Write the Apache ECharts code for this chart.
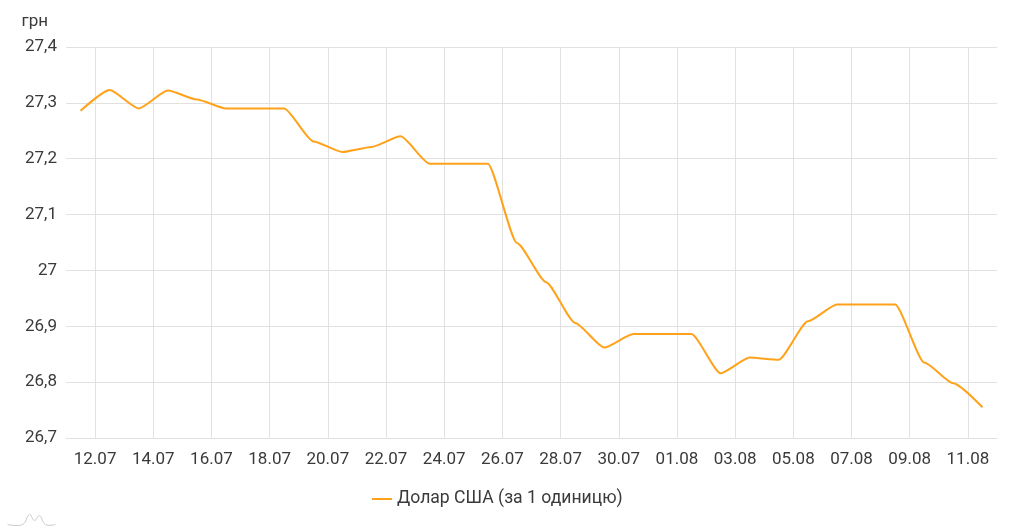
<!DOCTYPE html>
<html>
<head>
<meta charset="utf-8">
<style>
html,body{margin:0;padding:0;background:#fff;}
#chart{width:1024px;height:530px;}
</style>
<script src="https://cdn.jsdelivr.net/npm/echarts@6/dist/echarts.min.js"></script>
</head>
<body>
<div id="chart"></div>
<script>
// Daily observation dates (points sit in the middle of each day)
var days = ['11.07','12.07','13.07','14.07','15.07','16.07','17.07','18.07','19.07','20.07',
  '21.07','22.07','23.07','24.07','25.07','26.07','27.07','28.07','29.07','30.07','31.07',
  '01.08','02.08','03.08','04.08','05.08','06.08','07.08','08.08','09.08','10.08','11.08'];
// Day boundaries (midnights) used for tick labels and grid lines
var tickLabels = ['11.07','12.07','13.07','14.07','15.07','16.07','17.07','18.07','19.07','20.07',
  '21.07','22.07','23.07','24.07','25.07','26.07','27.07','28.07','29.07','30.07','31.07',
  '01.08','02.08','03.08','04.08','05.08','06.08','07.08','08.08','09.08','10.08','11.08','12.08'];
// USD rate, UAH
var usdRate = [27.286,27.323,27.290,27.322,27.306,27.290,27.290,27.290,27.231,27.212,
  27.221,27.240,27.191,27.191,27.191,27.049,26.979,26.906,26.862,26.886,26.886,
  26.886,26.816,26.844,26.840,26.909,26.939,26.939,26.939,26.835,26.798,26.755];
var seriesName = 'Долар США (за 1 одиницю)';
var yName = 'грн';

var textColor = '#3a3a3a';
var gridColor = '#e1e1e1';
var fontFamily = 'Roboto, sans-serif';

var chart = echarts.init(document.getElementById('chart'));
var oddOnly = function (i) { return i % 2 === 1; };
chart.setOption({
  animation: false,
  textStyle: { fontFamily: fontFamily },
  grid: { left: 66, right: 27, top: 47, bottom: 92 },
  legend: {
    data: [seriesName],
    left: 367, top: 485,
    icon: 'rect', itemWidth: 20, itemHeight: 2, itemGap: 6,
    textStyle: { fontSize: 17.6, color: textColor, fontFamily: fontFamily }
  },
  xAxis: [{
    type: 'category',
    data: tickLabels,
    boundaryGap: false,
    position: 'bottom',
    axisLine: { lineStyle: { color: gridColor, width: 1 } },
    axisTick: { show: false },
    axisLabel: { interval: oddOnly, color: textColor, fontSize: 17, margin: 13, fontFamily: fontFamily },
    splitLine: { show: true, interval: oddOnly, lineStyle: { color: gridColor, width: 1 } }
  }, {
    type: 'category',
    data: days,
    boundaryGap: true,
    position: 'bottom',
    show: false
  }],
  yAxis: {
    type: 'value',
    min: 26.7, max: 27.4, interval: 0.1,
    name: yName,
    nameLocation: 'end',
    nameGap: 17,
    nameTextStyle: { color: textColor, fontSize: 17, align: 'right', padding: [0, 18, 0, 0], fontFamily: fontFamily },
    axisLine: { show: false },
    axisTick: { show: false },
    axisLabel: {
      color: textColor, fontSize: 17, margin: 9, fontFamily: fontFamily,
      formatter: function (v) { return (Math.round(v * 10) / 10).toString().replace('.', ','); }
    },
    splitLine: { lineStyle: { color: gridColor, width: 1 } }
  },
  series: [{
    name: seriesName,
    type: 'line',
    xAxisIndex: 1,
    data: usdRate,
    smooth: 0.2,
    smoothMonotone: 'x',
    showSymbol: false,
    symbol: 'none',
    itemStyle: { color: '#ffa21a' },
    lineStyle: { color: '#ffa21a', width: 2 }
  }],
  graphic: [{
    type: 'polyline',
    left: 5, top: 512,
    shape: { points: [[0,12],[15,12],[22,2],[27,8],[32,3],[38,12],[48,12]], smooth: 0.4 },
    style: { stroke: '#c8c8c8', fill: null, lineWidth: 1 }
  }]
});
</script>
</body>
</html>
